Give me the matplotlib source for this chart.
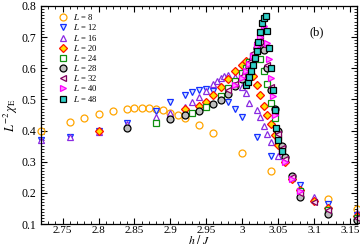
import matplotlib
matplotlib.use("Agg")
import matplotlib.pyplot as plt
from matplotlib.ticker import MultipleLocator

plt.rcParams['font.family'] = ['Liberation Serif', 'DejaVu Serif']
plt.rcParams['mathtext.fontset'] = 'stix'

# h/J values and L^-2 chi_E for every system size
h8 = [2.72, 2.76, 2.78, 2.80, 2.82, 2.84, 2.85, 2.86, 2.87, 2.88, 2.89, 2.90, 2.91, 2.92, 2.94, 2.96, 3.00, 3.04, 3.12, 3.16]
c8 = [0.400, 0.428, 0.440, 0.453, 0.463, 0.470, 0.472, 0.472, 0.472, 0.470, 0.466, 0.458, 0.450, 0.440, 0.418, 0.392, 0.328, 0.270, 0.180, 0.148]

h12 = [2.72, 2.76, 2.80, 2.84, 2.88, 2.90, 2.92, 2.93, 2.94, 2.95, 2.96, 2.98, 2.99, 3.00, 3.02, 3.04, 3.08, 3.12, 3.16]
c12 = [0.370, 0.379, 0.399, 0.424, 0.463, 0.492, 0.514, 0.524, 0.530, 0.534, 0.527, 0.492, 0.469, 0.444, 0.379, 0.318, 0.225, 0.164, 0.130]

h16 = [2.72, 2.76, 2.80, 2.84, 2.88, 2.90, 2.92, 2.93, 2.94, 2.95, 2.96, 2.965, 2.97, 2.975, 2.98, 2.99, 3.00,
       3.005, 3.01, 3.02, 3.025, 3.03, 3.035, 3.04, 3.05, 3.07, 3.10, 3.12, 3.16]
c16 = [0.370, 0.379, 0.397, 0.420, 0.445, 0.458, 0.476, 0.492, 0.508, 0.527, 0.550, 0.560, 0.569, 0.574, 0.577, 0.572, 0.540,
       0.520, 0.490, 0.466, 0.444, 0.415, 0.389, 0.363, 0.318, 0.248, 0.187, 0.155, 0.135]

h20 = [2.80, 2.92, 2.94, 2.95, 2.96, 2.97, 2.98, 2.99, 3.00, 3.005, 3.01, 3.015, 3.02, 3.025, 3.03, 3.035,
       3.04, 3.045, 3.05, 3.06, 3.07, 3.08, 3.10, 3.12, 3.16]
c20 = [0.400, 0.470, 0.480, 0.492, 0.514, 0.540, 0.565, 0.590, 0.610, 0.622, 0.600, 0.575, 0.545, 0.515, 0.480, 0.450,
       0.420, 0.385, 0.355, 0.300, 0.245, 0.210, 0.174, 0.152, 0.125]

h24 = [2.88, 2.93, 2.95, 2.97, 2.98, 2.99, 3.00, 3.005, 3.01, 3.015, 3.02, 3.025, 3.03, 3.035, 3.04, 3.045,
       3.05, 3.055, 3.06, 3.07, 3.08, 3.12, 3.16]
c24 = [0.425, 0.456, 0.476, 0.510, 0.537, 0.560, 0.585, 0.600, 0.620, 0.640, 0.655, 0.630, 0.590, 0.550, 0.490, 0.440,
       0.380, 0.340, 0.310, 0.250, 0.205, 0.145, 0.120]

h28 = [2.84, 2.90, 2.92, 2.94, 2.96, 2.97, 2.98, 2.99, 3.00, 3.005, 3.01, 3.015, 3.02, 3.025, 3.03, 3.035,
       3.04, 3.045, 3.05, 3.055, 3.06, 3.07, 3.08, 3.12, 3.16]
c28 = [0.408, 0.437, 0.450, 0.463, 0.485, 0.498, 0.517, 0.543, 0.565, 0.585, 0.605, 0.630, 0.665, 0.685, 0.660, 0.600,
       0.530, 0.470, 0.400, 0.350, 0.315, 0.255, 0.187, 0.133, 0.113]

h32 = [2.98, 2.99, 3.00, 3.005, 3.01, 3.015, 3.02, 3.025, 3.03, 3.035, 3.04, 3.045, 3.05, 3.055, 3.06, 3.07, 3.08, 3.10, 3.12, 3.16]
c32 = [0.530, 0.550, 0.575, 0.595, 0.620, 0.650, 0.685, 0.705, 0.675, 0.610, 0.540, 0.460, 0.390, 0.345, 0.310, 0.250, 0.200, 0.170, 0.145, 0.120]

h40 = [2.99, 3.00, 3.005, 3.01, 3.015, 3.02, 3.025, 3.03, 3.0325, 3.035, 3.0375, 3.04, 3.0425, 3.045, 3.05, 3.055, 3.06, 3.07, 3.08]
c40 = [0.545, 0.570, 0.590, 0.615, 0.640, 0.670, 0.700, 0.735, 0.725, 0.680, 0.630, 0.570, 0.510, 0.450, 0.370, 0.330, 0.300, 0.245, 0.205]

h48 = [3.005, 3.0075, 3.01, 3.0125, 3.015, 3.0175, 3.02, 3.0225, 3.025, 3.0275, 3.03, 3.0325, 3.035, 3.0375,
       3.04, 3.0425, 3.045, 3.0475, 3.05, 3.055]
c48 = [0.545, 0.556, 0.572, 0.590, 0.610, 0.632, 0.655, 0.685, 0.715, 0.745, 0.760, 0.768, 0.720, 0.665,
       0.600, 0.530, 0.465, 0.410, 0.370, 0.335]

series = [
    (h8, c8, "8", 'o', '#FFA500', 'none'),
    (h12, c12, "12", 'v', '#1530FF', '#D8E8FF'),
    (h16, c16, "16", '^', '#8A2BE2', 'white'),
    (h20, c20, "20", 'D', '#FF1000', '#FFE000'),
    (h24, c24, "24", 's', '#109010', 'white'),
    (h28, c28, "28", 'o', '#000000', '#BEBEBE'),
    (h32, c32, "32", '<', '#800060', '#FFE0F0'),
    (h40, c40, "40", '>', '#FF00FF', '#FF90FF'),
    (h48, c48, "48", 's', '#000000', '#30D0C8'),
]

fig = plt.figure(figsize=(3.6, 2.49), dpi=100)
ax = fig.add_axes([0.114, 0.100, 0.878, 0.876])

for h, c, lab, mk, ec, fc in series:
    ms = 4.2 if mk == 'D' else 5
    ax.plot(h, c, linestyle='none', marker=mk, markersize=ms, markeredgecolor=ec,
            markerfacecolor=fc, markeredgewidth=0.9, label="$L$ = " + lab, clip_on=False)

ax.set_xlim(2.72, 3.16)
ax.set_ylim(0.1, 0.8)
ax.xaxis.set_major_locator(MultipleLocator(0.05))
ax.xaxis.set_minor_locator(MultipleLocator(0.01))
ax.yaxis.set_major_locator(MultipleLocator(0.1))
ax.yaxis.set_minor_locator(MultipleLocator(0.01))
ax.xaxis.set_major_formatter(plt.FuncFormatter(lambda v, p: ('%g' % round(v, 2))))
ax.yaxis.set_major_formatter(plt.FuncFormatter(lambda v, p: ('%.1f' % v)))
ax.tick_params(which='both', direction='in', top=True, right=True, labelsize=8.5)
ax.tick_params(axis='x', labelsize=8, pad=1.5)
ax.tick_params(which='major', length=4, width=0.8)
ax.tick_params(which='minor', length=2, width=0.6)
for s in ax.spines.values():
    s.set_linewidth(0.9)

ax.set_xlabel(r"$h\ /\ J$", fontsize=8.5, labelpad=-0.5)
ax.set_ylabel(r"$L^{-2}\,\chi_{\rm E}$", fontsize=9, labelpad=1)
ax.text(0.873, 0.88, "(b)", transform=ax.transAxes, fontsize=9, ha='center', va='center')

ax.legend(loc='upper left', bbox_to_anchor=(0.04, 0.995), frameon=False, fontsize=6.2,
          handlelength=1.0, handletextpad=0.7, labelspacing=0.02, borderaxespad=0.2)

fig.savefig("out.png", dpi=100)
